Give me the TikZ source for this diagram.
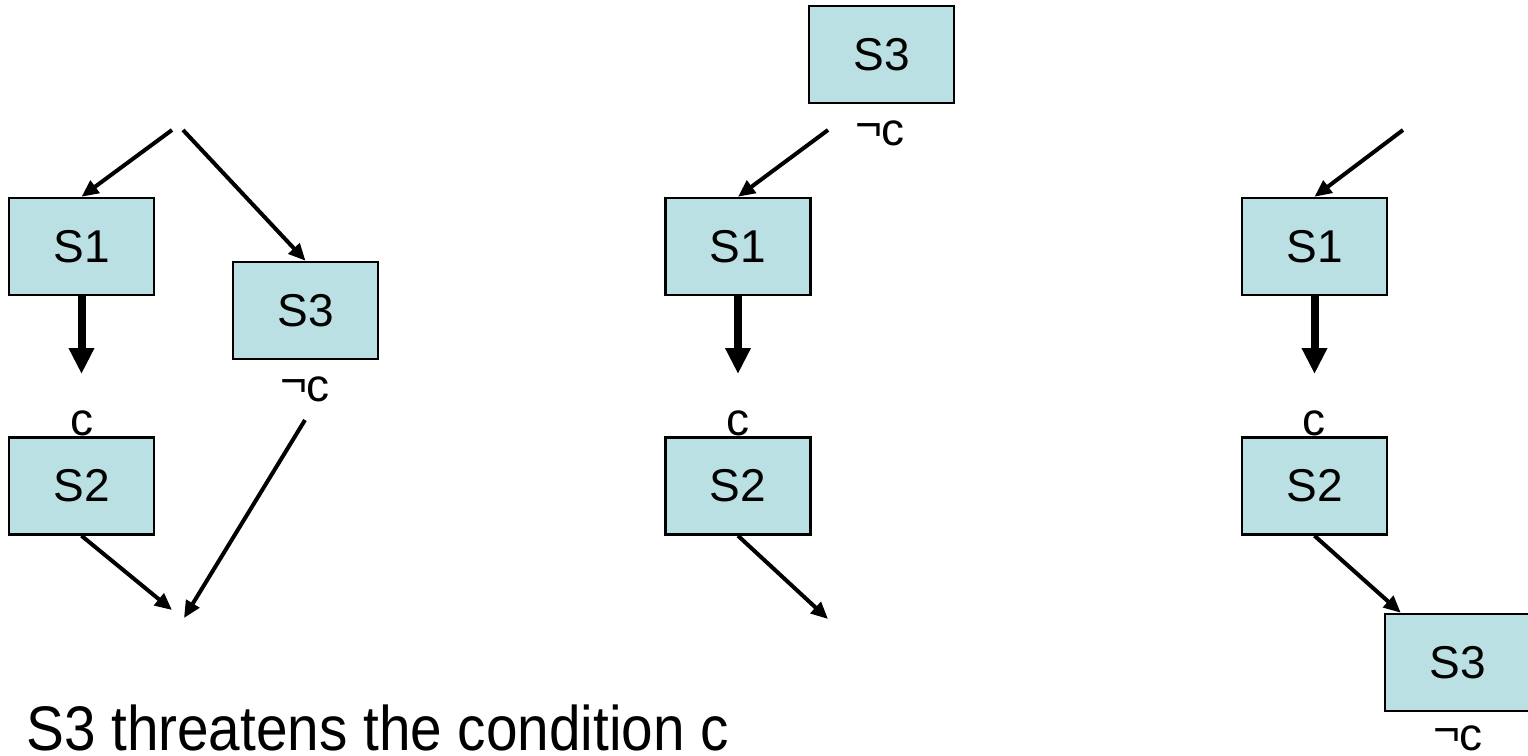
\documentclass[tikz,border=0pt]{standalone}
\usepackage{graphicx}
\usepackage{fontspec}
\setmainfont{Liberation Sans}
\usetikzlibrary{arrows.meta,calc}
\definecolor{boxfill}{RGB}{186,224,228}
% negated condition, with the negation sign set at x-height
\newcommand{\negc}{\raisebox{5pt}{¬}c}
\begin{document}
\begin{tikzpicture}[x=1pt,y=-1pt,
  stepbox/.style={draw=black,line width=2.5pt,fill=boxfill,minimum width=145pt,
    minimum height=97pt,inner sep=0pt,font=\fontsize{46}{55}\selectfont},
  cond/.style={inner sep=0pt,font=\fontsize{46}{55}\selectfont},
  link/.style={line width=4pt,-{Triangle[length=17pt,width=15pt]}},
  causal/.style={line width=8pt,-{Triangle[length=26pt,width=24pt]}}]
\useasboundingbox (0,0) rectangle (1528,755);

% ---- left: S3 unordered with respect to the causal link ----
\node[stepbox] (S1L) at (81.5,246.5) {S1};
\node[stepbox] (S3L) at (305.5,310.5) {S3};
\node[stepbox] (S2L) at (81.5,486) {S2};
\node[cond] (cL) at (82,423) {c};
\node[cond] (ncL) at (305,389) {\negc};
\coordinate (inL1) at (172,130);
\coordinate (inL2) at (183,130);
\coordinate (ncLout) at (305,420);
\coordinate (outL1) at (172,610);
\coordinate (outL2) at (184,618);
\draw[link] (inL1) -- (S1L.north);
\draw[link] (inL2) -- (S3L.north);
\draw[causal] (S1L.south) -- (81.5,374);
\draw[link] (S2L.south) -- (outL1);
\draw[link] (ncLout) -- (outL2);

% ---- middle: S3 placed before S1 ----
\node[stepbox] (S3M) at (881.5,54.5) {S3};
\node[cond] (ncM) at (880,133) {\negc};
\node[stepbox] (S1M) at (738,246.5) {S1};
\node[cond] (cM) at (738,423) {c};
\node[stepbox] (S2M) at (738,486) {S2};
\coordinate (inM) at (828,130);
\coordinate (outM) at (828,619);
\draw[link] (inM) -- (S1M.north);
\draw[causal] (S1M.south) -- (738,374);
\draw[link] (S2M.south) -- (outM);

% ---- right: S3 placed after S2 ----
\node[stepbox] (S1R) at (1314.5,246.5) {S1};
\node[cond] (cR) at (1314,423) {c};
\node[stepbox] (S2R) at (1314.5,486) {S2};
\node[stepbox] (S3R) at (1457.5,662.5) {S3};
\node[cond] (ncR) at (1458,738) {\negc};
\coordinate (inR) at (1403,130);
\draw[link] (inR) -- (S1R.north);
\draw[causal] (S1R.south) -- (1314.5,374);
\draw[link] (S2R.south) -- ($(S3R.north west)+(17,0)$);

% ---- caption ----
\node[anchor=base west,inner sep=0pt,font=\fontsize{63}{75}\selectfont] (caption)
  at (26,750) {\scalebox{0.9}[1]{S3 threatens the condition c}};
\end{tikzpicture}
\end{document}
